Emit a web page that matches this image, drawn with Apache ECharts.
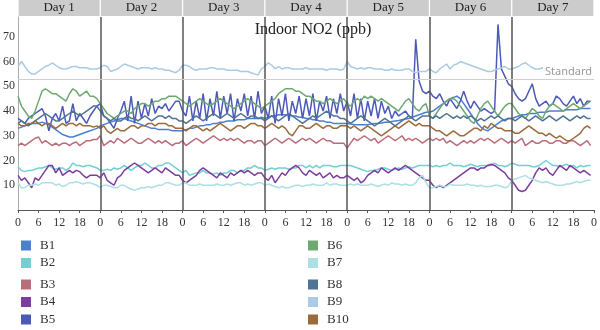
<!DOCTYPE html>
<html>
<head>
<meta charset="utf-8">
<script src="https://cdn.jsdelivr.net/npm/echarts@6/dist/echarts.min.js"></script>
<style>
  html, body { margin: 0; padding: 0; background: #fff; }
  #chart { width: 600px; height: 330px; }
</style>
</head>
<body>
<div id="chart"></div>
<script>
// Hourly indoor NO2 readings (ppb) for ten buildings over one week
const days = ['Day 1', 'Day 2', 'Day 3', 'Day 4', 'Day 5', 'Day 6', 'Day 7'];
const hourTicks = [0, 6, 12, 18];
const standardLevel = 53;
const dayBoundaries = [24, 48, 72, 96, 120, 144];

const B1 = [
  33,33.5,34,34.5,35,35,35,35.5,35,34.5,33.5,32.5,31.5,30.5,30,29.5,29.5,30,30.5,31,31.5,32,32.5,33,
  34,34.5,35,35.5,36,36.5,37,37,36.5,36,35.5,35,34.5,34,33.5,33,33,32.5,32.5,32.5,32.5,32,32,32,
  32,32.5,33,33,33.5,34,34,34.5,34.5,35,35,35.5,35.5,36,36,36,36.5,36.5,36.5,37,37,37,37,37.5,
  37,37.5,38,38,38.5,38.5,38.5,38.5,38,38,37.5,37.5,37,37,36.5,36.5,36,36,35.5,35.5,35,35,35,35,
  35,34.8,34.6,34.5,34.5,34.5,34.5,34.8,35,35,35.2,35.5,35.5,35.8,36,36.2,36.5,36.8,37,37.5,38,38.5,39,39.5,
  39.5,40,41,42,43,44,45,45.5,46,45,43,41,39,37,35,33.5,32.5,32,33,34,35,36,36.5,37,
  37,37.5,38,38.5,38.5,39,39,39,39.5,39.5,39.5,40,40,40,40,40,40.5,40.5,40.5,40.5,41,41,41,41
];
const B2 = [
  17.5,16,15.5,16,16,16.5,17,17,17.5,18,17,16.5,17,17,16,17,19,18,18,17.5,18,18,17.5,17,
  16,16,16.5,16,17,16.5,17,18,17,16,17,18,18,19,18,17,17,18,18,19,19,18,17,16,
  15,16,14,14.5,15,15,16,15,15,14.5,15,14,15,15,16,16,15,16,16,17,17,18,17,17,
  16,16.5,17,16.5,17,17,17,16.5,17,17,18,18,17,18,17,18,17,18,18,18,17.5,17.5,18,18,
  18,18,17.5,17,16.5,16,15.5,16,16,16.5,17,17,16.5,16,16.5,17,16.5,17,17.5,17,17.5,18,18,18,
  18,17.5,18,17.5,18,18,19,18,18,18,17.5,18,18.5,18,17.5,18,18,18,18,19,18,18,17.5,18,
  19,18.5,18,18,18,18,17.5,17.5,18,19,20,19,18,18,17.5,18,18.5,17.5,18,17,18,17.5,18,18
];
const B3 = [
  26,27,26,27,28,29,29.5,27,28,27,26,27,26,27,27,26,27,27.5,26,27,28,28,28.5,28.5,
  30,26,27,28,27,29,28,27,28,29,28,27,27,28,29,28,27,28,27,28,27,26,27,27,
  28,26,27,28,29,28,27,28,29,30,29,28,29,28,29,28,29,28,27,28,28,27,28,28,
  26,27,28,29,28,27,28,29,28,27,28,29,28,29,28,27,28,29,28,28,27,27,27,27,
  25,27,29,28,29,30,29,28,29,27,28,29,30,29,28,29,30,28,29,28,29,28,27,28,
  29,28,29,28,29,27,28,27,26,27,28,27,28,27,28,29,28,29,28,27,28,29,28,27,
  28,27,28,29,26,27,28,27,27,28,28,27,27,28,28,27,27,28,28,27,26,27,28,26
];
const B4 = [
  14,12,13,11,9,13,12,14,16,18,18,15,17,14,15,16,15,16,15.5,14,13,14,14,14,
  13,15,12,11,10,13,14,16,17,18,19,18,17,16,15,16,17,16,15,17,16,15,14,14,
  12,11,12,13,14,16,17,16,15,14,13,15,14,13,15,14,15,16,15,16,15,14,15,15,
  13,12,14,11,13,15,14,16,17,18,17,15,14,16,15,14,15,13,14,15,13,14,13,13,
  14,13,12,13,11,12,14,15,16,15,17,16,15,16,17,16,17,18,17,16,15,14,13,12,
  12,10,9,10,9,10,11,12,13,14,15,16,17,17,16,17,17,18,18.5,18,17,16,15,13,
  12,10,8,7.5,8,10,12,15,17,16,17,15,14,16,18,17,16,18,17,16,15,16,15,14
];
const B5 = [
  37,36,35,37,38,39,40,41,38,32,37,39,36,42,35,36,43,36,39,37,35,38,40,42,
  43,38,37,35,33,37,40,44,36,46,35,44,37,43,38,45,39,42,41,43,40,42,44,44,
  40,38,46,36,44,37,47,36,45,38,48,37,46,39,47,36,45,40,47,38,46,37,48,39,
  42,37,46,35,45,38,47,36,44,39,46,37,45,38,47,36,44,40,46,37,45,39,47,40,
  44,38,47,37,45,36,44,38,45,37,44,39,42,37,40,38,39,40,38,37,69,52,48,47,
  48,46,45,47,44,42,45,43,41,44,48,44,41,44,42,40,41,40,39,40,75,57,54,51,
  50,47,45,44,45,48,51,45,42,43,44,42,43,46,45,43,42,44,46,43,45,42,44,44
];
const B6 = [
  46,42,40,38,37,40,44,48,49,48,47,47,46,45,44,47,49,48,46,47,48,46,46,45,
  43,41,39,38,37,38,39,40,40,39,41,42,43,43,42,43,44,44,45,45,46,46,46,45,
  44,43,42,43,44,45,44,43,42,43,44,45,44,43,42,41,42,43,44,45,44,43,42,41,
  42,43,44,45,47,48,49,49,49,48,48,47,46,46,45,44,44,43,44,45,44,43,44,45,
  43,42,44,45,44,46,45,46,45,44,45,44,43,42,41,40,42,44,45,43,41,40,42,43,
  38,37,39,41,43,44,45,45,44,42,40,38,36,35,38,41,43,44,42,40,38,40,42,43,
  43,41,39,38,37,39,41,40,38,37,40,42,43,42,41,40,41,42,43,42,41,42,43,44
];
const B7 = [
  11,9,9,10,10,10.5,10,11,11,11,11,10,10.5,9.5,10,11,11,11.5,11,10.5,11,11,10.5,10,
  9,10,10,9.5,9,9,10,10,9,8.5,8,8.5,9,9,9.5,9,9.5,10,10,11,11,10.5,10,10,
  11,11,10,10,10,10.5,10,10,10,10,10.5,10,10,10.5,10,10.5,11,11,10,10.5,10,10.5,11,11,
  10,10.5,10,9.5,9,9.5,9,9,9.5,10,10,9.5,10,10,10.5,10,10,10,11,10,10.5,10.5,10,10,
  10,10.5,10,10.5,10,10,10,10.5,10,9.5,10,10.5,10,11,10.5,10.5,10,10.5,10,10,11,13,14,11,
  9,9,9.5,10,9.5,9.5,10.5,10,10,10,10,10.5,10,10,9.5,10,9.5,9.5,9.5,10,10,9.5,9,9.5,
  12,12.5,13,13.5,14,13,12.5,12,11.5,11,11.5,11,10.5,10,10,10,10.5,10.5,11,11.5,11,11.5,12,12
];
const B8 = [
  35,36,35,34,35,36,37,38,39,38,37,36,36,37,38,39,40,39,38,39,40,41,42,42,
  40,38,37,36,37,36,36,37,38,37,37,36,37,38,37,36,37,38,38,37,38,37,37,36,
  36,35,36,37,38,37,36,37,38,39,38,37,38,39,38,37,38,39,38,37,38,38,37,37,
  36,37,38,37,36,37,38,39,38,37,36,35,36,37,38,37,38,39,40,39,38,38,37,37,
  36,35,36,37,38,37,36,35,34,35,36,37,36,35,34,35,36,37,38,37,36,37,38,38,
  38,37,38,37,38,39,38,37,38,37,38,37,38,37,36,37,36,37,38,37,38,37,36,37,
  37,36,37,38,37,36,37,38,37,36,37,38,37,36,37,38,37,36,37,38,37,38,37,37
];
const B9 = [
  58,60,58,56,55,55,56,57,58,58.5,59.5,58.5,57.5,57,57,57.5,58,58,57.5,57.5,57.5,57,57,57,
  57.5,58.5,58,56,56.5,57,58,59,58.5,58,57.5,57,57.5,57.5,57.5,57,57.5,57,57,56.5,56.5,56,55.5,56.5,
  58.5,58.5,58,57,56.5,57,57,57,57.5,57.5,57,57,57,56.5,56.5,56.5,56.5,56,56,56,55.5,55,54.5,57,
  58,59.5,58.5,57,58,57,57.5,57.5,57,57,57,57,57.5,57,57,57,57,57,56.5,57,57,57,56.5,57,
  60,58,57.5,57,57.5,57,57.5,57.5,57,57,57,56.5,56.5,57,56.5,56.5,56.5,57,57,56,55.5,56,56,56,
  57,56,55.5,57,58,59,57,58.5,59,60,59.5,59,58.5,58,57.5,57,56.5,56,56,56.5,57,57.5,58,57,
  57,57.5,58,59,59.5,58.5,57.5,57,57,57.5,57,57.5,57.5,57.5,57,57,57,57,57,57,57,57,57,57
];
const B10 = [
  35,34,34,35,35,36,35,34,35,35,34,33,34,35,34,35,35,34,35,34,34,34,33.5,34,
  33,34,32,31,32,33,32,32,33,34,34,33,34,34,35,35,34,35,35,35,34,34,33,33,
  33,32,33,34,34,33,32,33,32,33,34,35,34,33,32,33,34,34,33,34,35,35,34,34,
  33,34,35,34,33,34,33,31,30,32,34,34,33,33,34,35,34,33,34,34,33,33,34,34,
  34,33,34,33,32,33,34,33,32,31,30,31,32,33,34,33,34,35,36,35,34,35,34,34,
  34,33,32,32,31,30,31,32,31,30,30,31,32,33,33,32,34,33,35,34,33,33,32,32,
  32,31,31,32,33,34,33,32,31,31,30,31,30,29,30,29,28,28,29,30,31,33,34,33
];

const seriesNames = ['B1','B2','B3','B4','B5','B6','B7','B8','B9','B10'];
const seriesValues = [B1, B2, B3, B4, B5, B6, B7, B8, B9, B10];
const seriesColors = ['#4d7fd0','#72cfd2','#b96e7a','#7c3d9f','#4b59b9',
                      '#6caa72','#ade0e3','#507396','#aacbe4','#9c6b3c'];

const serif = 'Liberation Serif';

const series = seriesNames.map((name, i) => ({
  name,
  type: 'line',
  xAxisIndex: 0,
  yAxisIndex: 0,
  showSymbol: false,
  symbol: 'none',
  smooth: false,
  lineStyle: { width: 1.5, color: seriesColors[i] },
  itemStyle: { color: seriesColors[i] },
  data: seriesValues[i].map((v, h) => [h, v]),
  z: 2
}));

// Day separators and the guideline level
series[0].markLine = {
  silent: true,
  symbol: 'none',
  animation: false,
  data: [
    ...dayBoundaries.map(x => ({
      xAxis: x,
      lineStyle: { color: '#555', width: 1.5, type: 'solid' },
      label: { show: false }
    })),
    {
      yAxis: standardLevel,
      lineStyle: { color: '#cfcfcf', width: 1, type: 'solid' },
      label: {
        show: true,
        position: 'insideEndTop',
        formatter: 'Standard',
        color: '#9a9a9a',
        fontFamily: 'Noto Sans',
        fontSize: 11,
        backgroundColor: '#fff',
        padding: [0, 2, 0, 2],
        distance: [0, 1]
      }
    }
  ]
};

const legendBase = {
  orient: 'vertical',
  icon: 'rect',
  itemWidth: 10,
  itemHeight: 10,
  itemGap: 4.5,
  padding: 0,
  height: 120,
  selectedMode: false,
  textStyle: { fontFamily: serif, fontSize: 13, color: '#333', padding: [0, 0, 0, 4] }
};

const option = {
  animation: false,
  backgroundColor: '#fff',
  title: {
    text: 'Indoor NO2 (ppb)',
    left: 308,
    textAlign: 'center',
    top: 17,
    textStyle: { fontFamily: serif, fontSize: 16, fontWeight: 'normal', color: '#222' }
  },
  legend: [
    Object.assign({}, legendBase, { data: ['B1', 'B2'], left: 21, top: 239 }),
    Object.assign({}, legendBase, { data: ['B3', 'B4', 'B5'], left: 21, top: 278 }),
    Object.assign({}, legendBase, { data: ['B6', 'B7'], left: 308, top: 239 }),
    Object.assign({}, legendBase, { data: ['B8', 'B9', 'B10'], left: 308, top: 278 })
  ],
  grid: { left: 17, right: 3, top: 17, bottom: 120, containLabel: false },
  xAxis: [
    {
      type: 'value',
      position: 'bottom',
      min: 0,
      max: 168,
      interval: 6,
      axisLine: { show: true, lineStyle: { color: '#555', width: 1 } },
      axisTick: { show: true, length: 3, lineStyle: { color: '#555' } },
      splitLine: { show: false },
      axisLabel: {
        fontFamily: serif,
        fontSize: 12,
        color: '#333',
        margin: 7,
        formatter: v => String(hourTicks.includes(v % 24) ? v % 24 : '')
      }
    },
    {
      type: 'category',
      position: 'top',
      data: days,
      boundaryGap: true,
      axisLine: { show: false },
      axisTick: { show: false },
      splitLine: { show: false },
      axisLabel: {
        interval: 0,
        margin: 1,
        fontFamily: serif,
        fontSize: 13,
        color: '#222',
        backgroundColor: '#cccccc',
        width: 81,
        height: 16,
        lineHeight: 16,
        align: 'center',
        padding: 0
      }
    }
  ],
  yAxis: {
    type: 'value',
    min: 0,
    max: 78,
    interval: 10,
    axisLine: { show: true, lineStyle: { color: '#aaa', width: 1 } },
    axisTick: { show: false },
    splitLine: { show: false },
    axisLabel: {
      showMinLabel: false,
      showMaxLabel: false,
      fontFamily: serif,
      fontSize: 12,
      color: '#333',
      margin: 3,
      padding: [3, 0, 0, 0]
    }
  },
  series
};

const chart = echarts.init(document.getElementById('chart'), null, { renderer: 'canvas' });
chart.setOption(option);
</script>
</body>
</html>
